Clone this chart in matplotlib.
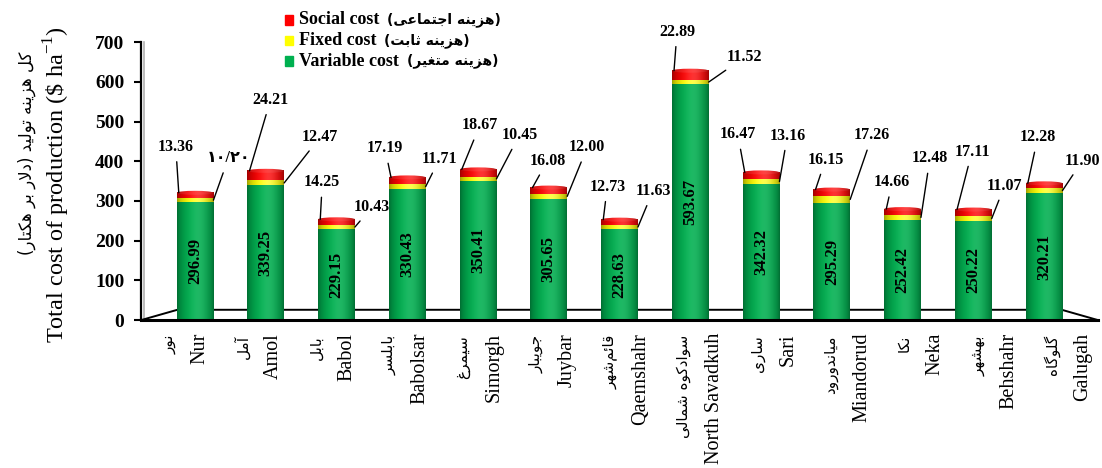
import numpy as np
import matplotlib
matplotlib.use("Agg")
import matplotlib.pyplot as plt
from matplotlib.colors import to_rgb
from matplotlib.patches import Ellipse, Rectangle
from matplotlib.transforms import blended_transform_factory

plt.rcParams["font.family"] = ["Liberation Serif", "DejaVu Sans"]
plt.rcParams["mathtext.fontset"] = "custom"
plt.rcParams["mathtext.rm"] = "Liberation Serif"

districts_en = ["Nur", "Amol", "Babol", "Babolsar", "Simorgh", "Juybar", "Qaemshahr",
                "North Savadkuh", "Sari", "Miandorud", "Neka", "Behshahr", "Galugah"]
districts_fa = ["نور", "آمل", "بابل", "بابلسر", "سیمرغ", "جویبار", "قائم\u200cشهر",
                "سوادکوه شمالی", "ساری", "میاندورود", "نکا", "بهشهر", "گلوگاه"]
variable_cost = [296.99, 339.25, 229.15, 330.43, 350.41, 305.65, 228.63,
                 593.67, 342.32, 295.29, 252.42, 250.22, 320.21]
fixed_cost = [10.20, 12.47, 10.43, 11.71, 10.45, 12.00, 11.63,
              11.52, 13.16, 17.26, 12.48, 11.07, 11.90]
social_cost = [13.36, 24.21, 14.25, 17.19, 18.67, 16.08, 12.73,
               22.89, 16.47, 16.15, 14.66, 17.11, 12.28]

social_text = [f"{v:.2f}" for v in social_cost]
fixed_text = [f"{v:.2f}" for v in fixed_cost]
fixed_text[0] = "۱۰/۲۰"

# label positions (pixels) relative to the bar corner the leader line points at
social_offsets = [(-3, 46), (21, 71), (2, 37), (-6, 29), (18, 44), (15, 27), (4, 33),
                  (3, 39), (-7, 38), (10, 30), (6, 27), (15, 58), (10, 46)]
fixed_offsets = [(15, 42), (36, 46), (17, 20), (14, 28), (23, 44), (20, 49), (15, 36),
                 (36, 25), (8, 46), (22, 64), (9, 59), (13, 33), (20, 30)]

# --- minimal Persian shaping (matplotlib has no complex text layout) ---
DUAL = {"ئ": 0xFE89, "ب": 0xFE8F, "ت": 0xFE95, "ث": 0xFE99, "ج": 0xFE9D, "س": 0xFEB1,
        "ش": 0xFEB5, "ع": 0xFEC9, "غ": 0xFECD, "ق": 0xFED5, "ل": 0xFEDD, "م": 0xFEE1,
        "ن": 0xFEE5, "ه": 0xFEE9, "ی": 0xFBFC, "ک": 0xFB8E, "گ": 0xFB92}
RIGHT = {"ا": 0xFE8D, "آ": 0xFE81, "د": 0xFEA9, "ر": 0xFEAD, "ز": 0xFEAF, "و": 0xFEED}


def fa(s):
    out = []
    i = 0
    while i < len(s):
        c = s[i]
        if c not in DUAL and c not in RIGHT:
            if c != "\u200c":
                out.append(c)
            i += 1
            continue
        prev = s[i - 1] if i > 0 else ""
        nxt = s[i + 1] if i + 1 < len(s) else ""
        joined_prev = prev in DUAL
        if c == "ل" and nxt in ("ا", "آ"):
            base = 0xFEFB if nxt == "ا" else 0xFEF5
            out.append(chr(base + (1 if joined_prev else 0)))
            i += 2
            continue
        joins_next = c in DUAL and (nxt in DUAL or nxt in RIGHT)
        if c in DUAL:
            form = 3 if (joined_prev and joins_next) else 1 if joined_prev else 2 if joins_next else 0
            out.append(chr(DUAL[c] + form))
        else:
            out.append(chr(RIGHT[c] + (1 if joined_prev else 0)))
        i += 1
    vis = "".join(reversed(out))
    return vis.translate(str.maketrans("()", ")("))


var = np.array(variable_cost)
fix = np.array(fixed_cost)
soc = np.array(social_cost)
totals = var + fix + soc
n = len(districts_en)
x = np.arange(n)
w = 0.52
px_per_unit = 278 / 700

fig = plt.figure(figsize=(11.02, 4.68), dpi=100)
ax = fig.add_axes([0.128, 0.316, 0.8684, 0.594])

green, yellow, red = "#00b050", "#ffff00", "#ff0000"
b_var = ax.bar(x, var, w, color=green, zorder=3)
b_fix = ax.bar(x, fix, w, bottom=var, color=yellow, zorder=3)
b_soc = ax.bar(x, soc, w, bottom=var + fix, color=red, zorder=3)

# cylinder shading across each bar
t = np.linspace(0, 1, 80)
edge = 0.6 + 0.4 * np.sin(np.pi * t) ** 0.6
light = np.exp(-((t - 0.6) / 0.25) ** 2)


def shade(color, hl):
    base = np.array(to_rgb(color))
    col = base[None, :] * edge[:, None] + hl * light[:, None] * (1 - base[None, :])
    return np.clip(col, 0, 1)[None, :, :]


for bars, color, hl in [(b_var, green, 0.12), (b_fix, yellow, 0.3), (b_soc, red, 0.2)]:
    img = shade(color, hl)
    for p in bars:
        x0, y0 = p.get_x(), p.get_y()
        ax.imshow(img, extent=[x0, x0 + p.get_width(), y0, y0 + p.get_height()],
                  aspect="auto", interpolation="bicubic", zorder=4)

# elliptical top of each cylinder
cap_h = 4 / px_per_unit
top_img = shade("#ff1a1a", 0.18)
for p in b_soc:
    x0, wd = p.get_x(), p.get_width()
    top = p.get_y() + p.get_height()
    ell = Ellipse((x0 + wd / 2, top), wd, cap_h, transform=ax.transData)
    im = ax.imshow(top_img, extent=[x0, x0 + wd, top - cap_h, top + cap_h], aspect="auto",
                   interpolation="bicubic", zorder=4.5)
    im.set_clip_path(ell)
    im.set_clip_box(fig.bbox)

# value of variable cost inside each bar
for i in range(n):
    ax.text(x[i], var[i] / 2, f"{var[i]:.2f}", rotation=90, ha="center", va="center",
            fontsize=12, fontweight="bold", zorder=6)

# social and fixed cost labels with leader lines
line = dict(arrowstyle="-", color="black", lw=1, shrinkA=3, shrinkB=0)
for i in range(n):
    ax.annotate(social_text[i], xy=(x[i] - w / 2 + 0.03, totals[i]), xytext=social_offsets[i],
                textcoords="offset pixels", ha="center", va="center", fontsize=11.5,
                fontweight="bold", arrowprops=line, annotation_clip=False, zorder=7)
    ax.annotate(fixed_text[i], xy=(x[i] + w / 2, var[i] + fix[i] / 2), xytext=fixed_offsets[i],
                textcoords="offset pixels", ha="center", va="center", fontsize=11.5,
                fontweight="bold", arrowprops=line, annotation_clip=False, zorder=7)

x_lo, x_hi = -0.763, 12.763
ax.set_xlim(x_lo, x_hi)
ax.set_ylim(0, 700)

# floor of the 3-D plot area
depth = 26
ax.plot([x_lo, -0.25, 12.25, x_hi], [0, depth, depth, 0], color="black", lw=1.4,
        clip_on=False, zorder=2)
ax.plot([x_lo, x_hi], [0, 0], color="black", lw=2.2, clip_on=False, zorder=5)
ax.plot([x_lo + 0.035, x_lo + 0.035], [0, 700], color="#b0b0b0", lw=1.2, clip_on=False, zorder=1)

for side in ["top", "right", "bottom"]:
    ax.spines[side].set_visible(False)
ax.spines["left"].set_linewidth(1.6)
ax.set_xticks([])
ax.set_yticks(range(0, 701, 100))
ax.tick_params(axis="y", direction="out", length=5, width=1.5, pad=7, labelsize=14)
for lab in ax.get_yticklabels():
    lab.set_fontweight("bold")

# district names under the floor
lab_tr = blended_transform_factory(ax.transData, fig.transFigure)
for i in range(n):
    xe = (2 + 73.58 * i) / 70.75
    ax.text(xe, 1 - 333 / 468, districts_en[i], transform=lab_tr, rotation=90,
            rotation_mode="anchor", ha="right", va="center_baseline", fontsize=14.5)
    ax.text(xe - 30 / 70.75, 1 - 335 / 468, fa(districts_fa[i]), transform=lab_tr,
            rotation=90, rotation_mode="anchor", ha="right", va="center_baseline",
            fontsize=11, family="DejaVu Sans")

# axis titles
fig.text(57 / 1102, 0.605, "Total cost of production (\\$ ha$^{-1}$)", rotation=90,
         ha="center", va="center", fontsize=17.5)
fig.text(27 / 1102, 0.673, fa("کل هزینه تولید (دلار بر هکتار)"), rotation=90,
         ha="center", va="center", fontsize=12, family="DejaVu Sans")

# legend
legend_rows = [(red, "Social cost", "(هزینه اجتماعی)", 20),
               (yellow, "Fixed cost", "(هزینه ثابت)", 40.5),
               (green, "Variable cost", "(هزینه متغیر)", 61)]
for color, en, far, py in legend_rows:
    fig.add_artist(Rectangle((285 / 1102, 1 - (py + 4.5) / 468), 8 / 1102, 9 / 468,
                             transform=fig.transFigure, color=color))
    txt = fig.text(299 / 1102, 1 - py / 468, en, ha="left", va="center",
                   fontsize=13, fontweight="bold")
    ax.annotate(fa(far), xy=(1, 0.5), xycoords=txt, xytext=(8, 0), textcoords="offset pixels",
                ha="left", va="center", fontsize=10, fontweight="bold", family="DejaVu Sans",
                annotation_clip=False)

fig.savefig("out.png", dpi=100)
